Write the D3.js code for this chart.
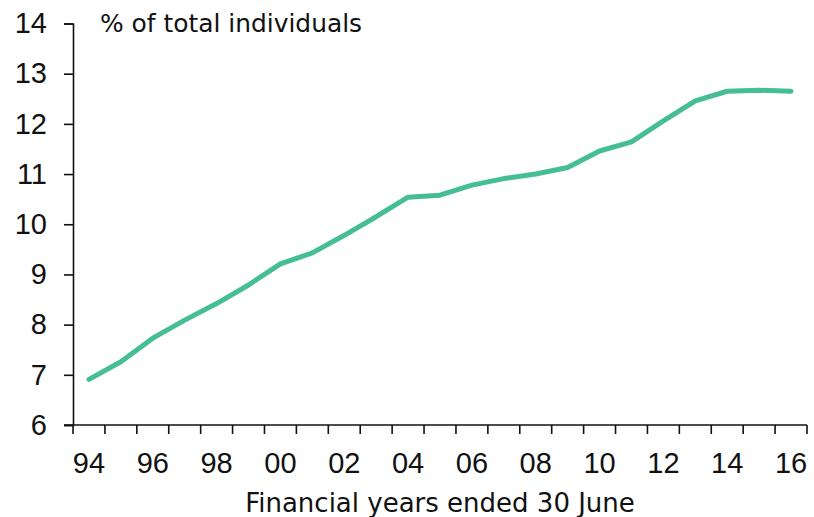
<!DOCTYPE html>
<html>
<head>
<meta charset="utf-8">
<script src="https://cdn.jsdelivr.net/npm/d3@7/dist/d3.min.js"></script>
<style>
  html, body { margin: 0; padding: 0; background: #fff; }
  svg { display: block; }
</style>
</head>
<body>
<svg id="chart" width="814" height="517"></svg>
<script>
// ---- Data ----
const years = ["94","95","96","97","98","99","00","01","02","03","04","05","06","07","08","09","10","11","12","13","14","15","16"];
const values = [6.91, 7.26, 7.73, 8.09, 8.42, 8.79, 9.21, 9.43, 9.78, 10.15, 10.54, 10.58, 10.78, 10.91, 11.00, 11.13, 11.46, 11.64, 12.06, 12.46, 12.65, 12.67, 12.65];
const yTicks = [6, 7, 8, 9, 10, 11, 12, 13, 14];
const xLabelEvery = 2;
const yTitle = "% of total individuals";
const xTitle = "Financial years ended 30 June";

// ---- Layout ----
const svg = d3.select("#chart");
const mLeft = 73, mRight = 807, mTop = 23.5, mBottom = 425;

const x = d3.scaleBand().domain(years).range([mLeft, mRight]).paddingInner(0).paddingOuter(0);
const y = d3.scaleLinear().domain([6, 14]).range([mBottom, mTop]);

// Line
const line = d3.line()
  .x((d, i) => x(years[i]) + x.bandwidth() / 2)
  .y(d => y(d));

svg.append("path")
  .datum(values)
  .attr("d", line)
  .attr("fill", "none")
  .attr("stroke", "#45bd97")
  .attr("stroke-width", 5)
  .attr("stroke-linejoin", "round")
  .attr("stroke-linecap", "round");

// Y axis
const yAxis = d3.axisLeft(y).tickValues(yTicks).tickSize(9).tickPadding(17).tickFormat(d3.format("d"));
const gy = svg.append("g").attr("transform", `translate(${mLeft},0)`).call(yAxis);
gy.select(".domain").attr("stroke", "#111").attr("stroke-width", 1.6);
gy.selectAll(".tick line").attr("stroke", "#111").attr("stroke-width", 1.6);
gy.selectAll(".tick text")
  .attr("font-family", "'Liberation Sans', Arial, sans-serif")
  .attr("font-size", 29)
  .attr("fill", "#111");

// X axis: tick marks at band boundaries
const boundaries = years.map(d => x(d)).concat([mRight]);
const gx = svg.append("g");
gx.append("line")
  .attr("x1", mLeft - 9).attr("x2", mRight)
  .attr("y1", mBottom).attr("y2", mBottom)
  .attr("stroke", "#111").attr("stroke-width", 1.6);
gx.selectAll("line.tk").data(boundaries).enter().append("line")
  .attr("class", "tk")
  .attr("x1", d => d).attr("x2", d => d)
  .attr("y1", mBottom).attr("y2", mBottom + 9)
  .attr("stroke", "#111").attr("stroke-width", 1.6);
gx.selectAll("text").data(years.filter((d, i) => i % xLabelEvery === 0)).enter().append("text")
  .attr("x", d => x(d) + x.bandwidth() / 2)
  .attr("y", 473)
  .attr("text-anchor", "middle")
  .attr("font-family", "'Liberation Sans', Arial, sans-serif")
  .attr("font-size", 29)
  .attr("fill", "#111")
  .text(d => d);

// Titles
svg.append("text")
  .attr("x", 100).attr("y", 31.5)
  .attr("font-family", "'DejaVu Sans', sans-serif")
  .attr("font-size", 24.9)
  .attr("fill", "#111")
  .text(yTitle);

svg.append("text")
  .attr("x", (mLeft + mRight) / 2).attr("y", 512)
  .attr("text-anchor", "middle")
  .attr("font-family", "'DejaVu Sans', sans-serif")
  .attr("font-size", 26)
  .attr("fill", "#111")
  .text(xTitle);
</script>
</body>
</html>
